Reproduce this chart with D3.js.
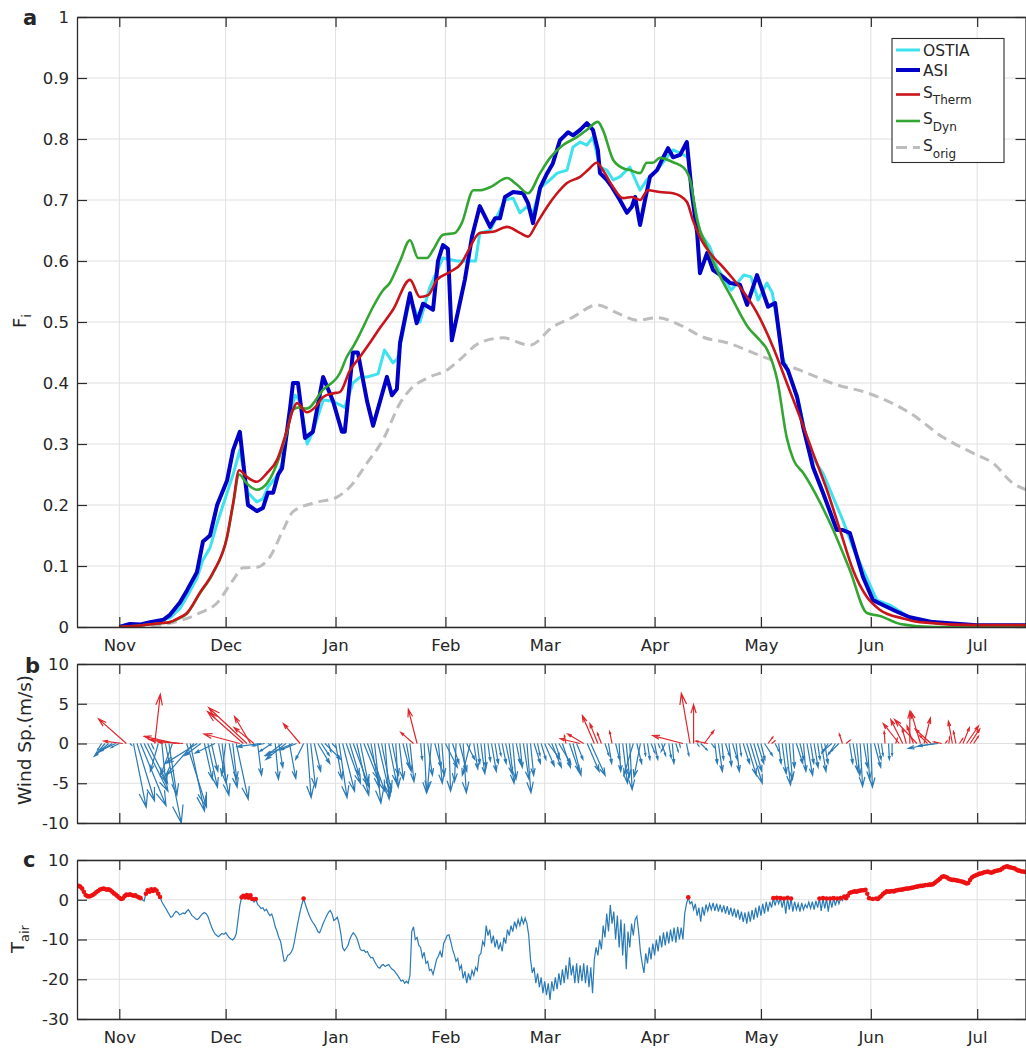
<!DOCTYPE html>
<html><head><meta charset="utf-8">
<script src="https://cdn.jsdelivr.net/npm/d3@7"></script>
<style>
body{margin:0;background:#fff}
svg{display:block}
text{font-family:"DejaVu Sans",sans-serif;fill:#262626}
</style>
</head><body>
<svg id="chart" width="1026" height="1049"></svg>
<script>
// ---------------- DATA ----------------
// days are counted from 1 Nov 2016 (day 0)
const monthLabels = ["Nov","Dec","Jan","Feb","Mar","Apr","May","Jun","Jul"];
const fiTicks = [0,0.1,0.2,0.3,0.4,0.5,0.6,0.7,0.8,0.9,1];
const windTicks = [-10,-5,0,5,10];
const tairTicks = [-30,-20,-10,0,10];
const legendNames = ["OSTIA","ASI","S|Therm","S|Dyn","S|orig"];

const ostia = [[0,0],[5,0.003],[8.7,0.006],[14.3,0.015],[17.1,0.03],[19.1,0.05],[21.9,0.08],[23.6,0.11],[25.6,0.13],[27.6,0.17],[30.4,0.22],[32.1,0.25],[34,0.29],[36.3,0.22],[38.8,0.205],[40.5,0.21],[42,0.23],[44.8,0.25],[46,0.27],[48.2,0.35],[49.6,0.38],[51,0.37],[53,0.3],[54.6,0.32],[57.5,0.372],[60.3,0.37],[63.6,0.36],[65.9,0.4],[68,0.41],[70,0.41],[73,0.415],[74.8,0.454],[77.2,0.433],[78.5,0.44],[82,0.54],[84.8,0.5],[87.6,0.557],[91.3,0.605],[95.2,0.6],[98,0.6],[100.5,0.6],[101.7,0.646],[104.6,0.65],[108.8,0.7],[111.1,0.703],[113,0.679],[115,0.689],[116.7,0.679],[118.7,0.72],[121.5,0.733],[123.5,0.744],[126.3,0.749],[128,0.787],[130,0.795],[131.9,0.79],[133.6,0.803],[135.6,0.754],[137.5,0.749],[139.3,0.733],[141.2,0.738],[144,0.754],[146.9,0.716],[148.8,0.733],[151.7,0.749],[154.5,0.77],[156.2,0.782],[158.2,0.777],[160.4,0.77],[161.8,0.705],[163.8,0.646],[166.6,0.623],[168.6,0.59],[172.6,0.552],[176.2,0.577],[178.2,0.574],[180.2,0.536],[182.7,0.564],[184.2,0.548],[187.2,0.44],[191.2,0.38],[194.8,0.285],[198.5,0.252],[204.1,0.175],[206.9,0.131],[213.7,0.044],[217.4,0.036],[223,0.015],[230,0.007],[242,0.003],[255.8,0.003]];

const asi = [[0,0],[3,0.005],[6,0.004],[8.7,0.008],[10.6,0.01],[12.5,0.012],[14.3,0.02],[17.1,0.04],[19.1,0.06],[21.9,0.09],[23.6,0.14],[25.6,0.15],[27.6,0.2],[30.4,0.24],[32.1,0.29],[34,0.32],[36.3,0.2],[38.8,0.19],[40.5,0.195],[41.9,0.22],[43.4,0.22],[44.8,0.25],[45.9,0.26],[48.2,0.36],[49,0.4],[50.4,0.4],[52.4,0.31],[54.6,0.32],[57.5,0.41],[60.3,0.37],[62.8,0.32],[63.6,0.32],[65.9,0.45],[67.3,0.45],[69.9,0.37],[71.6,0.33],[75.5,0.41],[76.9,0.38],[78.3,0.39],[79.2,0.466],[82,0.547],[83.9,0.498],[85.7,0.53],[88.5,0.52],[89.9,0.6],[91.3,0.626],[92.7,0.62],[93.8,0.47],[97.5,0.57],[99.5,0.64],[101.7,0.69],[104.6,0.656],[106,0.67],[107.4,0.67],[108.8,0.705],[111.1,0.713],[113.9,0.711],[115.3,0.695],[116.7,0.662],[118.7,0.72],[120.7,0.744],[122.3,0.76],[124.3,0.798],[125.2,0.803],[126.6,0.811],[128,0.806],[130,0.815],[131.9,0.826],[133.6,0.815],[135,0.782],[135.6,0.744],[137.5,0.733],[139,0.721],[141.2,0.7],[143.2,0.679],[144.6,0.689],[145.5,0.705],[146.9,0.659],[148.3,0.7],[149.7,0.738],[151.7,0.749],[153.1,0.766],[154.8,0.785],[156.2,0.77],[158.2,0.774],[160.1,0.795],[161.5,0.711],[163,0.646],[163.8,0.58],[165.8,0.613],[167.5,0.585],[170.3,0.574],[172.3,0.564],[175.1,0.561],[177.1,0.528],[179.9,0.577],[183,0.525],[185,0.531],[187.2,0.433],[188.6,0.421],[191.2,0.377],[192.9,0.328],[195.7,0.262],[198.5,0.22],[202.4,0.159],[204.1,0.159],[206.1,0.154],[209.8,0.082],[212.6,0.044],[215.4,0.036],[219.4,0.025],[223,0.016],[229.5,0.008],[241.9,0.003],[255.8,0.003]];

const sTherm = [[0,0],[5,0.002],[11.3,0.006],[14.3,0.008],[16.5,0.014],[19.1,0.023],[22.7,0.056],[26.4,0.089],[30.4,0.148],[32.1,0.203],[33.8,0.257],[36,0.246],[38.8,0.238],[41.6,0.252],[44.5,0.274],[47.3,0.323],[49,0.356],[50.1,0.367],[52.9,0.352],[55.2,0.36],[57.5,0.377],[60.3,0.383],[62.2,0.385],[65.1,0.421],[67.9,0.443],[70.7,0.466],[73.5,0.49],[77.2,0.52],[82,0.569],[84.8,0.541],[87.1,0.544],[89.6,0.569],[93.3,0.582],[96.6,0.597],[98.1,0.613],[101.7,0.646],[105.5,0.648],[109.4,0.656],[113,0.646],[115.3,0.64],[117.8,0.662],[120.7,0.689],[123.5,0.711],[126.3,0.728],[130,0.738],[132.2,0.749],[134.7,0.761],[136.4,0.749],[139.3,0.721],[142.1,0.703],[144.6,0.705],[146.9,0.7],[149.1,0.716],[152.5,0.713],[156.2,0.711],[160.1,0.697],[161.8,0.667],[163.8,0.639],[167.5,0.607],[170.3,0.59],[172.5,0.575],[175.1,0.557],[179.9,0.515],[184.4,0.459],[188.3,0.4],[192,0.344],[195.7,0.285],[199.6,0.225],[203.3,0.159],[207,0.093],[210.9,0.049],[214.6,0.028],[221.1,0.014],[225.9,0.008],[242,0.003],[255.8,0.003]];

const sDyn = [[0,0],[5,0.002],[11.3,0.006],[14.3,0.008],[16.5,0.013],[19.1,0.022],[22.7,0.055],[26.4,0.088],[30.4,0.147],[32.1,0.2],[33.8,0.25],[36,0.235],[38.8,0.225],[41.6,0.235],[44.5,0.268],[47.3,0.32],[49,0.356],[50.7,0.36],[52.9,0.358],[57.5,0.389],[62.2,0.416],[64.2,0.443],[66,0.46],[68,0.482],[71.6,0.525],[74.4,0.552],[76.3,0.564],[79.2,0.6],[82,0.634],[84.3,0.605],[86.8,0.605],[88.5,0.618],[91.3,0.643],[94.7,0.646],[96.6,0.662],[99.9,0.716],[101.7,0.716],[104.6,0.721],[109.4,0.736],[112.2,0.725],[115.3,0.711],[118.7,0.744],[121.5,0.769],[125.2,0.79],[129.1,0.803],[131.9,0.815],[135,0.828],[136.4,0.815],[139.3,0.766],[142.1,0.752],[144,0.749],[146.9,0.744],[148.8,0.761],[150.5,0.761],[152.5,0.769],[156.2,0.762],[159,0.754],[161,0.733],[163,0.667],[165.8,0.623],[168.6,0.585],[173.1,0.536],[177.3,0.492],[180.7,0.47],[182.8,0.454],[185.6,0.405],[188.3,0.31],[190.2,0.274],[193,0.252],[197.6,0.205],[201.4,0.159],[206.1,0.093],[210.9,0.023],[214.6,0.018],[220.3,0.005],[230,0],[255.8,0]];

const sOrig = [[0,0],[5.8,0],[10,0.002],[14.3,0.006],[22.7,0.023],[27.5,0.039],[32.1,0.077],[34.9,0.097],[38.8,0.098],[42.5,0.115],[46.2,0.159],[49,0.189],[54.6,0.203],[61.4,0.213],[65.1,0.23],[69.9,0.269],[74.4,0.307],[79.2,0.367],[82,0.389],[87.6,0.41],[92.4,0.421],[96,0.438],[101.7,0.466],[108.2,0.474],[115.8,0.462],[122.3,0.492],[128,0.508],[134.7,0.528],[140.4,0.515],[146,0.503],[151.7,0.507],[158.2,0.495],[164.7,0.475],[171.4,0.466],[181.6,0.443],[192,0.421],[202.4,0.397],[210.9,0.384],[223,0.351],[232.4,0.311],[241.9,0.282],[246.4,0.269],[252,0.236],[255.8,0.225]];

// wind vectors, one per day starting at day -5 (m/s)
const windStartDay = -5;
const windU = [
-0.5,-1.2,-1.8,-1.5,-2.0,-1.0,-2.4,-3.5,0.2,1.6,
2.2,3.2,3.0,2.5,0.3,0.7,-1.0,0.5,2.0,1.0,
-1.5,-4.0,-3.8,-3.2,2.5,1.8,-3.5,-4.0,-2.0,1.0,
1.2,0.8,-2.5,1.3,0.5,-0.5,1.0,0.5,1.5,-4.5,
-4.5,-4.8,-2.0,-2.5,0.5,-3.0,-1.5,0.3,-1.5,0.4,
0.5,-2.0,-2.5,0.8,-3.5,-2.0,-2.1,-1.0,0.5,0.6,
0.8,1.5,1.0,2.0,0.3,0.5,0.8,1.0,1.5,1.8,
1.2,2.0,1.5,1.0,1.8,2.2,1.0,0.8,1.5,1.2,
0.5,1.0,0.8,0.3,0.5,0.8,0.6,0.5,-1.6,-1.1,
0.2,0.3,0.6,-0.5,0.8,0.5,0.3,1.5,0.2,0.8,
-0.2,0.9,0.4,1.0,-1.0,0.5,0.3,0.5,0.2,0.3,
0.6,0.4,0.3,0.5,0.8,0.6,0.4,0.5,0.3,0.7,
0.5,0.4,0.8,0.3,0.6,1.2,1.5,1.2,0.5,1.5,
1.0,-0.2,1.2,1.0,0.8,-2.5,-2.0,1.5,1.8,-1.5,
-1.0,-0.5,0.5,0.4,-0.3,0.5,0.2,0.6,0.4,0.3,
-1.2,0.6,-0.8,0.2,0.3,0.5,0.4,0.2,0.5,-0.5,
0.3,0.2,0.3,0.1,-3.8,0.3,-1.1,0.0,0.2,0.8,
1.2,-1.5,0.4,0.3,0.5,0.2,0.5,0.3,0.6,0.4,
0.2,0.8,1.2,1.5,1.0,0.8,0.5,1.0,0.6,0.4,
0.5,0.3,0.5,0.6,0.4,0.2,0.8,0.5,0.3,0.7,
0.4,0.5,0.3,0.6,0.4,-0.8,-1.2,-0.9,-1.0,-0.4,
0.5,0.4,0.6,0.4,0.3,0.5,0.3,0.2,0.8,0.4,
0.2,-0.1,0.1,0.0,0.2,-2.0,-1.5,-0.5,0.0,-0.8,
-2.8,-1.2,0.8,-1.0,-2.0,-3.3,-2.5,-1.0,0.2,0.1,
-0.5,-0.3,0.4,0.8,1.5,1.2,0.6];
const windV = [
-0.8,-1.4,-1.6,-1.0,-0.9,-0.5,0.3,3.1,-0.2,-8.0,
-7.2,-7.8,-6.0,-5.0,-0.6,6.2,-3.5,-5.0,-10.0,-6.5,
-4.0,0.9,0.5,0.2,-8.0,-8.5,-4.0,-2.5,-1.5,-4.5,
-5.5,-3.5,-1.2,-6.5,-5.0,-4.0,-5.5,-4.5,-7.0,1.2,
4.0,4.5,3.4,2.0,-4.0,-0.4,-0.3,-0.2,-1.0,-4.5,
-3.0,-1.5,-2.0,-4.4,-1.5,-0.8,2.5,-2.0,-6.8,-5.5,
-3.5,-2.5,-1.5,-2.0,-1.0,-0.5,-4.5,-6.8,-6.0,-5.0,
-4.0,-5.5,-6.5,-5.0,-4.5,-6.0,-5.5,-7.5,-6.5,-6.0,
-7.0,-5.0,-4.0,-5.5,-4.5,-3.0,-3.5,-4.8,1.4,4.3,
-2.0,-6.2,-4.0,-6.0,-3.0,-5.0,-4.0,-3.0,-6.0,-2.5,
-4.8,-3.5,-6.2,-2.0,-4.0,-3.2,-2.5,-3.8,-3.0,-2.2,
-3.5,-2.5,-1.5,-2.5,-3.8,-5.0,-4.5,-2.5,-3.0,-4.5,
-6.2,-4.0,-2.5,-1.5,-2.0,-2.8,-2.0,-3.0,-1.5,-2.5,
-3.0,1.0,-3.5,-4.0,-2.0,0.6,1.2,-3.5,-4.0,3.5,
2.5,1.3,-1.5,-2.5,1.5,-2.0,-3.5,-5.0,-4.2,-5.8,
-4.0,-2.5,-4.2,-1.5,-2.0,-1.2,-2.0,-0.5,-1.5,-1.0,
-1.8,-2.5,-1.0,-0.4,1.0,-1.5,6.3,4.9,-0.3,-0.8,
1.6,0.3,-0.5,-2.5,-3.5,-2.0,-1.5,-2.8,-2.0,-3.5,
-1.5,-2.5,-4.0,-5.0,-3.5,-2.5,-2.0,-1.5,0.8,0.3,
-1.0,-2.5,-3.8,-5.2,-4.5,-3.0,-2.5,-2.0,-3.5,-4.0,
-2.5,-3.0,-2.0,-3.5,-2.5,-1.2,-1.0,-1.4,-1.0,1.2,
0.4,-2.5,-3.5,-4.0,-5.4,-3.0,-4.5,-5.5,-3.0,-2.0,
-1.5,1.5,-2.0,-1.5,0.6,2.5,3.0,1.8,4.0,2.2,
3.0,4.0,3.2,1.0,1.8,-0.6,-0.3,0.2,0.3,0.8,
2.8,1.5,0.6,2.0,2.2,1.8,0.9];

// air temperature (deg C), every half day starting at day -12
const tairStartDay = -12;
const tairStep = 0.5;
const tair = [
3.6,3.5,3.3,2.8,2.0,1.2,0.9,0.8,1.0,1.2,
1.5,1.9,2.2,2.5,2.7,2.8,2.7,2.5,2.6,2.4,
2.0,1.6,1.3,0.9,0.5,0.2,0.3,0.9,1.3,1.2,
1.4,1.2,1.0,1.1,0.8,0.6,0.4,0.0,-0.3,1.5,
2.4,2.0,2.6,2.2,2.6,2.3,1.5,0.7,-0.5,-1.3,
-2.0,-2.8,-3.6,-4.4,-4.2,-3.4,-2.9,-3.2,-3.8,-3.6,
-3.3,-3.5,-2.9,-2.5,-3.2,-4.0,-4.3,-4.8,-5.0,-4.6,
-4.0,-3.5,-3.2,-3.5,-4.2,-5.5,-6.8,-7.8,-8.6,-9.0,
-9.3,-8.8,-8.5,-8.7,-8.3,-8.9,-9.5,-9.9,-10.1,-9.6,
-8.5,-5.0,-1.5,0.6,1.0,0.6,1.2,0.5,1.1,0.2,
-0.6,0.2,-1.2,-1.6,-2.2,-2.0,-2.8,-2.4,-3.3,-4.0,
-3.6,-5.0,-6.8,-8.0,-9.5,-10.5,-13.0,-15.5,-15.2,-14.0,
-13.8,-13.2,-12.2,-10.0,-7.5,-5.2,-3.0,-1.2,0.3,-1.2,
-2.5,-3.8,-4.8,-5.6,-6.2,-7.0,-8.0,-8.3,-7.2,-6.0,
-5.0,-4.0,-3.2,-2.7,-3.5,-5.2,-4.9,-4.4,-6.0,-8.5,
-12.0,-12.8,-12.2,-11.5,-10.0,-9.0,-8.3,-8.8,-9.6,-11.0,
-12.5,-12.8,-12.7,-13.2,-13.0,-14.0,-14.6,-14.5,-15.5,-16.3,
-17.0,-17.2,-16.5,-16.3,-16.8,-16.5,-16.3,-17.0,-17.5,-17.8,
-18.4,-19.0,-19.7,-20.5,-20.2,-21.0,-20.5,-21.0,-19.0,-8.0,
-6.8,-10.0,-9.5,-11.5,-12.0,-14.5,-13.2,-16.0,-15.5,-17.8,
-17.5,-18.8,-17.0,-15.0,-14.2,-13.0,-14.5,-11.0,-10.0,-9.0,
-8.8,-10.5,-12.5,-13.8,-15.5,-14.8,-17.5,-16.5,-19.8,-18.0,
-21.0,-18.5,-20.2,-17.8,-19.0,-17.0,-17.8,-14.0,-13.5,-10.5,
-11.5,-6.5,-9.0,-7.5,-11.0,-9.0,-12.0,-10.0,-12.5,-11.0,
-13.0,-9.5,-11.0,-7.5,-9.0,-6.5,-8.0,-5.5,-7.0,-5.0,
-6.5,-4.5,-6.0,-4.6,-6.0,-9.0,-15.0,-18.4,-17.0,-21.0,
-18.5,-22.0,-19.5,-23.5,-20.5,-24.0,-21.0,-25.2,-20.5,-23.0,
-19.5,-22.5,-18.5,-21.5,-17.5,-21.0,-16.5,-20.0,-14.5,-19.0,
-16.5,-21.0,-16.0,-21.0,-16.5,-20.5,-16.0,-21.0,-16.5,-22.0,
-17.0,-23.5,-15.0,-12.0,-14.0,-10.0,-12.5,-6.5,-9.5,-3.5,
-8.0,-1.3,-6.0,-3.0,-10.0,-4.0,-12.0,-5.0,-14.0,-6.0,
-17.5,-8.0,-12.0,-6.0,-9.0,-5.0,-4.2,-8.0,-13.0,-16.0,
-18.4,-13.5,-16.0,-12.0,-15.0,-11.0,-14.0,-10.0,-13.0,-9.0,
-12.0,-8.2,-11.5,-8.0,-11.0,-7.5,-10.5,-7.0,-10.8,-6.8,
-10.0,-7.0,-10.0,-3.5,-1.0,0.6,-1.0,-0.5,-2.5,-1.0,
-4.0,-2.0,-5.5,-1.8,-4.0,-1.2,-2.8,-1.0,-2.5,-0.8,
-2.8,-1.0,-3.0,-1.2,-3.2,-1.4,-3.5,-1.6,-3.8,-2.0,
-4.2,-2.2,-4.5,-2.5,-5.0,-3.0,-5.6,-3.2,-6.0,-3.0,
-5.5,-2.6,-5.0,-2.0,-4.5,-1.5,-4.0,-1.0,-3.5,-0.5,
-3.0,-0.5,-2.0,0.4,-1.5,0.5,-1.0,0.4,-2.0,0.3,
-3.5,0.5,-2.5,0.3,-3.0,-0.5,-2.5,-1.0,-3.0,-0.8,
-2.5,-1.2,-2.0,-0.6,-2.2,-0.5,-2.5,-0.3,-2.0,0.3,
-2.8,0.4,-2.2,0.3,-3.0,0.3,-2.0,0.4,-1.5,0.3,
-1.0,0.4,-0.2,0.8,0.4,1.0,1.7,1.9,2.0,2.1,
2.0,2.2,2.3,2.4,2.4,2.5,1.5,0.4,0.0,0.2,
0.0,0.3,0.2,0.6,1.0,1.5,1.8,2.1,2.0,2.1,
2.2,2.1,2.3,2.4,2.5,2.5,2.6,2.7,2.8,2.8,
2.9,3.0,3.1,3.2,3.3,3.4,3.5,3.5,3.6,3.7,
3.7,3.8,3.8,3.9,4.2,4.6,4.9,5.3,5.7,5.9,
5.8,5.6,5.3,5.1,5.0,5.0,4.9,4.8,4.7,4.6,
4.5,4.3,4.1,4.2,5.0,5.6,5.9,6.1,6.3,6.5,
6.6,6.7,6.9,7.0,7.1,6.9,6.8,7.0,7.2,7.3,
7.4,7.5,7.8,8.1,8.3,8.4,8.2,8.1,8.0,7.9,
7.6,7.4,7.3,7.1,7.1,7.0];

// ---------------- DRAWING ----------------
const svg = d3.select("#chart");
svg.append("rect").attr("width",1026).attr("height",1049).attr("fill","#fff");
const DAY = 864e5, T0 = Date.UTC(2016,10,1);
const toDate = d => new Date(T0 + d*DAY);
const x = d3.scaleUtc().domain([toDate(-11.93), toDate(255.77)]).range([77, 1026]);
const monthTicks = x.ticks(d3.utcMonth.every(1));
const fmtMonth = d => monthLabels[monthTicks.findIndex(m => +m === +d)] || "";

const ya = d3.scaleLinear().domain([0,1]).range([627,17]);
const yb = d3.scaleLinear().domain([-10,10]).range([823,664]);
const yc = d3.scaleLinear().domain([-30,10]).range([1019,860]);

const AX = "#2b2b2b", GRID = "#e0e0e0";

function panel(y, ticks, fmt, showX, id){
  const [bottom, top] = y.range();
  const [left, right] = x.range();
  const g = svg.append("g");
  const grid = g.append("g");
  grid.selectAll(".vx").data(monthTicks).join("line")
    .attr("x1", d=>x(d)).attr("x2", d=>x(d)).attr("y1", top).attr("y2", bottom)
    .attr("stroke", GRID).attr("stroke-width", 1);
  grid.selectAll(".hy").data(ticks).join("line")
    .attr("x1", left).attr("x2", right).attr("y1", d=>y(d)).attr("y2", d=>y(d))
    .attr("stroke", GRID).attr("stroke-width", 1);
  svg.append("clipPath").attr("id", "clip"+id).append("rect")
    .attr("x", left).attr("y", top).attr("width", right-left).attr("height", bottom-top);
  const data = g.append("g").attr("clip-path", `url(#clip${id})`);
  const axes = g.append("g");
  const styleAxis = s => {
    s.selectAll("path.domain").attr("stroke", AX).attr("stroke-width", 1.3);
    s.selectAll(".tick line").attr("stroke", AX).attr("stroke-width", 1.2);
    s.selectAll("text").attr("font-size", 16.5).attr("fill", "#262626")
      .attr("font-family", "DejaVu Sans, sans-serif");
  };
  axes.append("g").attr("transform", `translate(0,${bottom})`)
    .call(d3.axisBottom(x).tickValues(monthTicks).tickFormat(showX ? fmtMonth : "")
      .tickSizeInner(-10).tickSizeOuter(0).tickPadding(12)).call(styleAxis);
  axes.append("g").attr("transform", `translate(0,${top})`)
    .call(d3.axisTop(x).tickValues(monthTicks).tickFormat("")
      .tickSizeInner(-10).tickSizeOuter(0)).call(styleAxis);
  axes.append("g").attr("transform", `translate(${left},0)`)
    .call(d3.axisLeft(y).tickValues(ticks).tickFormat(fmt)
      .tickSizeInner(-10).tickSizeOuter(0).tickPadding(8)).call(styleAxis);
  axes.append("g").attr("transform", `translate(${right-0.5},0)`)
    .call(d3.axisRight(y).tickValues(ticks).tickFormat("")
      .tickSizeInner(-10).tickSizeOuter(0)).call(styleAxis);
  return data;
}

// ---- panel a ----
const dA = panel(ya, fiTicks, d => String(d), true, "a");
const lineA = d3.line().x(p => x(toDate(p[0]))).y(p => ya(p[1]));
const lineSmooth = d3.line().curve(d3.curveMonotoneX).x(p => x(toDate(p[0]))).y(p => ya(p[1]));
const seriesA = [
  {data: sOrig, color: "#bdbdbd", w: 3, dash: "10,6", smooth: true},
  {data: ostia, color: "#3de2ee", w: 3},
  {data: asi, color: "#0000c6", w: 4},
  {data: sDyn, color: "#33a532", w: 2.6, smooth: true},
  {data: sTherm, color: "#c8141a", w: 2.6, smooth: true}
];
seriesA.forEach(s => {
  dA.append("path").attr("d", (s.smooth ? lineSmooth : lineA)(s.data)).attr("fill", "none")
    .attr("stroke", s.color).attr("stroke-width", s.w)
    .attr("stroke-linejoin", "round")
    .attr("stroke-dasharray", s.dash || null);
});

// legend
const lg = svg.append("g");
lg.append("rect").attr("x", 892).attr("y", 38.5).attr("width", 112).attr("height", 124)
  .attr("fill", "#fff").attr("stroke", AX).attr("stroke-width", 1.1);
const legendStyle = [
  {color:"#3de2ee", w:3, ly:50, ty:56},
  {color:"#0000c6", w:4, ly:70, ty:76},
  {color:"#c8141a", w:2.6, ly:94.5, ty:97.5},
  {color:"#33a532", w:2.6, ly:121, ty:124},
  {color:"#bdbdbd", w:3, ly:147.5, ty:151, dash:"11,6"}
];
legendNames.forEach((n, i) => {
  const st = legendStyle[i];
  lg.append("line").attr("x1", 896).attr("x2", 920).attr("y1", st.ly).attr("y2", st.ly)
    .attr("stroke", st.color).attr("stroke-width", st.w).attr("stroke-dasharray", st.dash || null);
  const parts = n.split("|");
  const t = lg.append("text").attr("x", 923).attr("y", st.ty).attr("font-size", 15.5);
  t.append("tspan").text(parts[0]);
  if (parts[1]) t.append("tspan").attr("dy", 6.5).attr("font-size", 12).text(parts[1]);
});

// ---- panel b : wind quiver ----
const dB = panel(yb, windTicks, d => String(d), false, "b");
const kpx = yb(0) - yb(1);
windU.forEach((u, i) => {
  const v = windV[i];
  const d = windStartDay + i;
  const x0 = x(toDate(d)), y0 = yb(0);
  const x1 = x0 + u * kpx, y1 = yb(v);
  const dx = x1 - x0, dy = y1 - y0, L = Math.hypot(dx, dy);
  if (L < 0.5) return;
  const ux = dx / L, uy = dy / L;
  const h = 0.22 * L, w = 0.3 * h;
  const bx = x1 - ux * h, by = y1 - uy * h;
  const p = `M${x0},${y0}L${x1},${y1}M${bx + uy*w},${by - ux*w}L${x1},${y1}L${bx - uy*w},${by + ux*w}`;
  dB.append("path").attr("d", p).attr("fill", "none")
    .attr("stroke", v >= 0 ? "#e0262b" : "#2a7ab6").attr("stroke-width", 1.2);
});

// ---- panel c : air temperature ----
const dC = panel(yc, tairTicks, d => String(d), true, "c");
const tPts = tair.map((t, i) => [tairStartDay + i * tairStep, t]);
dC.append("path").attr("d", d3.line().x(p => x(toDate(p[0]))).y(p => yc(p[1]))(tPts))
  .attr("fill", "none").attr("stroke", "#2a7ab6").attr("stroke-width", 1.2);
dC.selectAll("circle").data(tPts.filter(p => p[1] > 0)).join("circle")
  .attr("cx", p => x(toDate(p[0]))).attr("cy", p => yc(p[1])).attr("r", 2.3)
  .attr("fill", "#ee1111");

// ---- labels ----
const lab = (txt, xx, yy) => svg.append("text").attr("x", xx).attr("y", yy)
  .attr("font-size", 21).attr("font-weight", "bold").attr("fill", "#000").text(txt);
lab("a", 23, 25); lab("b", 25, 673); lab("c", 23, 867);

const ylab1 = svg.append("text").attr("transform", "translate(26,321) rotate(-90)")
  .attr("text-anchor", "middle").attr("font-size", 18);
ylab1.append("tspan").text("F");
ylab1.append("tspan").attr("dy", 5).attr("font-size", 13).text("i");

svg.append("text").attr("transform", "translate(31,740) rotate(-90)")
  .attr("text-anchor", "middle").attr("font-size", 18.5).text("Wind Sp.(m/s)");

const ylab3 = svg.append("text").attr("transform", "translate(24,939) rotate(-90)")
  .attr("text-anchor", "middle").attr("font-size", 18);
ylab3.append("tspan").text("T");
ylab3.append("tspan").attr("dy", 5).attr("font-size", 13).text("air");
</script>
</body></html>
